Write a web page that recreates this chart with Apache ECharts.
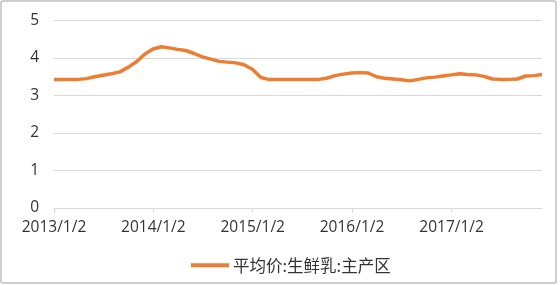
<!DOCTYPE html>
<html>
<head>
<meta charset="utf-8">
<script src="https://cdn.jsdelivr.net/npm/echarts@6/dist/echarts.min.js"></script>
<style>
html,body{margin:0;padding:0;background:#fff;}
#chart{width:560px;height:285px;}
</style>
</head>
<body>
<div id="chart"></div>
<script>
// ---- data ----
var seriesName = '平均价:生鲜乳:主产区';
var dates = [
  '2013-01-02','2013-02-01','2013-03-01','2013-04-01','2013-05-01','2013-06-01','2013-07-01','2013-08-01','2013-09-01','2013-10-01','2013-11-01','2013-12-01',
  '2014-01-01','2014-02-01','2014-03-01','2014-04-01','2014-05-01','2014-06-01','2014-07-01','2014-08-01','2014-09-01','2014-10-01','2014-11-01','2014-12-01',
  '2015-01-01','2015-02-01','2015-03-01','2015-04-01','2015-05-01','2015-06-01','2015-07-01','2015-08-01','2015-09-01','2015-10-01','2015-11-01','2015-12-01',
  '2016-01-01','2016-02-01','2016-03-01','2016-04-01','2016-05-01','2016-06-01','2016-07-01','2016-08-01','2016-09-01','2016-10-01','2016-11-01','2016-12-01',
  '2017-01-01','2017-02-01','2017-03-01','2017-04-01','2017-05-01','2017-06-01','2017-07-01','2017-08-01','2017-09-01','2017-10-01','2017-11-01','2017-11-30'
];
var prices = [
  3.43,3.43,3.43,3.43,3.45,3.50,3.54,3.58,3.63,3.75,3.90,4.10,
  4.24,4.30,4.27,4.23,4.20,4.12,4.03,3.97,3.91,3.89,3.87,3.82,
  3.70,3.48,3.43,3.43,3.43,3.43,3.43,3.43,3.43,3.46,3.53,3.57,
  3.60,3.61,3.60,3.50,3.46,3.44,3.42,3.39,3.43,3.47,3.49,3.52,
  3.55,3.58,3.56,3.55,3.51,3.44,3.43,3.43,3.44,3.52,3.53,3.56
];
var tickDates = ['2013-01-02','2014-01-02','2015-01-02','2016-01-02','2017-01-02'];
var tickLabels = ['2013/1/2','2014/1/2','2015/1/2','2016/1/2','2017/1/2'];
var yTicks = [0,1,2,3,4,5];

// ---- build ----
function dayOffset(s){
  var p = s.split('-');
  var t = Date.UTC(+p[0], +p[1]-1, +p[2]);
  var p0 = dates[0].split('-');
  var t0 = Date.UTC(+p0[0], +p0[1]-1, +p0[2]);
  return Math.round((t - t0) / 86400000);
}
var points = dates.map(function(d,i){ return [dayOffset(d), prices[i]]; });
var tickPos = tickDates.map(dayOffset);

var font = '"Open Sans", "Noto Sans", sans-serif';
var textColor = '#333333';
var chart = echarts.init(document.getElementById('chart'), null, {renderer:'canvas'});
chart.setOption({
  animation:false,
  backgroundColor:'#fff',
  grid:{left:54, right:18, top:20.5, bottom:77, containLabel:false},
  legend:{
    data:[seriesName],
    left:191, top:257, padding:0,
    icon:'rect', itemWidth:38, itemHeight:4, itemGap:10,
    textStyle:{fontFamily:'"Noto Sans CJK SC", sans-serif', fontSize:16.5, color:textColor, padding:[0,0,0,-1]}
  },
  xAxis:{
    type:'value',
    min:0, max:points[points.length-1][0],
    axisLine:{show:true, lineStyle:{color:'#d9d9d9', width:1}},
    axisTick:{show:true, length:5, customValues:tickPos, lineStyle:{color:'#d9d9d9'}},
    axisLabel:{customValues:tickPos, margin:12, color:textColor, fontSize:15.5, fontFamily:font,
      formatter:function(v){ var i = tickPos.indexOf(v); return i>=0 ? tickLabels[i] : ''; }},
    splitLine:{show:false}
  },
  yAxis:{
    type:'value', min:yTicks[0], max:yTicks[yTicks.length-1], interval:1,
    axisLine:{show:false}, axisTick:{show:false},
    axisLabel:{margin:15, color:textColor, fontSize:15.5, fontFamily:font},
    splitLine:{lineStyle:{color:'#d9d9d9', width:1}}
  },
  series:[{
    name:seriesName, type:'line', data:points,
    showSymbol:false, symbol:'none', smooth:false,
    lineStyle:{color:'#ED7D31', width:3.5},
    itemStyle:{color:'#ED7D31'}
  }],
  graphic:[{
    type:'rect', silent:true, z:100,
    shape:{x:1, y:1, width:555, height:282, r:2},
    style:{fill:'none', stroke:'#bfbfbf', lineWidth:1.5}
  }]
});
</script>
</body>
</html>
